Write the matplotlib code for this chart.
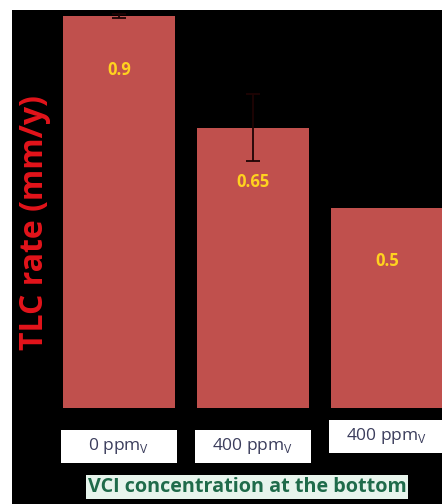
import matplotlib.pyplot as plt
from matplotlib.patches import Rectangle

# bar heights as drawn, with the value labels printed on them
heights = [0.9, 0.643, 0.46]
value_labels = ['0.9', '0.65', '0.5']
errors = [0.004, 0.077, 0.0]
categories = ['0 ppm$_\\mathregular{V}$', '400 ppm$_\\mathregular{V}$', '400 ppm$_\\mathregular{V}$']

W, H = 442, 504
fig = plt.figure(figsize=(W / 100, H / 100), dpi=100, facecolor='white')
ax = fig.add_axes([12 / W, 0, 430 / W, 494 / H], facecolor='black')

s = 0.9 / 392  # data units per pixel
xs = list(range(len(heights)))
ax.bar(xs, heights, width=0.83, color='#c0504d', zorder=2)
ex = [x for x, e in zip(xs, errors) if e > 0]
ax.errorbar(ex, [heights[x] for x in ex], yerr=[errors[x] for x in ex], fmt='none',
            ecolor='#1e0404', elinewidth=1.3, capsize=5, capthick=1.3, zorder=3)

for x, h, lab in zip(xs, heights, value_labels):
    ax.text(x, h - 0.123, lab, color='#ffd21f', fontsize=12, fontweight='bold',
            ha='center', va='center', family='Open Sans', zorder=4)

# white category boxes under the bars (third one sits a bit higher)
for i, (x, cat) in enumerate(zip(xs, categories)):
    top = -22 * s if i < 2 else -12 * s
    bh = 33 * s
    ax.add_patch(Rectangle((x - 0.435, top - bh), 0.87, bh, facecolor='white',
                           edgecolor='none', zorder=2, clip_on=False))
    ax.text(x, top - bh / 2, cat, color='#3b3d5c', fontsize=12.5,
            ha='center', va='center', family='Open Sans', zorder=4)

ax.set_xlim((12 - 119) / 134, (442 - 119) / 134)
ax.set_ylim(-(504 - 408) * s, (408 - 10) * s)
ax.set_xticks([])
ax.set_yticks([])
for sp in ax.spines.values():
    sp.set_visible(False)

fig.text(35 / W, 1 - 223 / H, 'TLC rate (mm/y)', rotation=90, color='#e3141b',
         fontsize=23, fontweight='bold', ha='center', va='center', family='Open Sans')

fig.text(247 / W, 1 - 487 / H, 'VCI concentration at the bottom', color='#1f6b4a',
         fontsize=14.2, fontweight='bold', ha='center', va='center', family='Open Sans',
         bbox=dict(boxstyle='square,pad=0.08', facecolor='#e7f4ec', edgecolor='none'))

fig.savefig('out.png', dpi=100, facecolor='white')
